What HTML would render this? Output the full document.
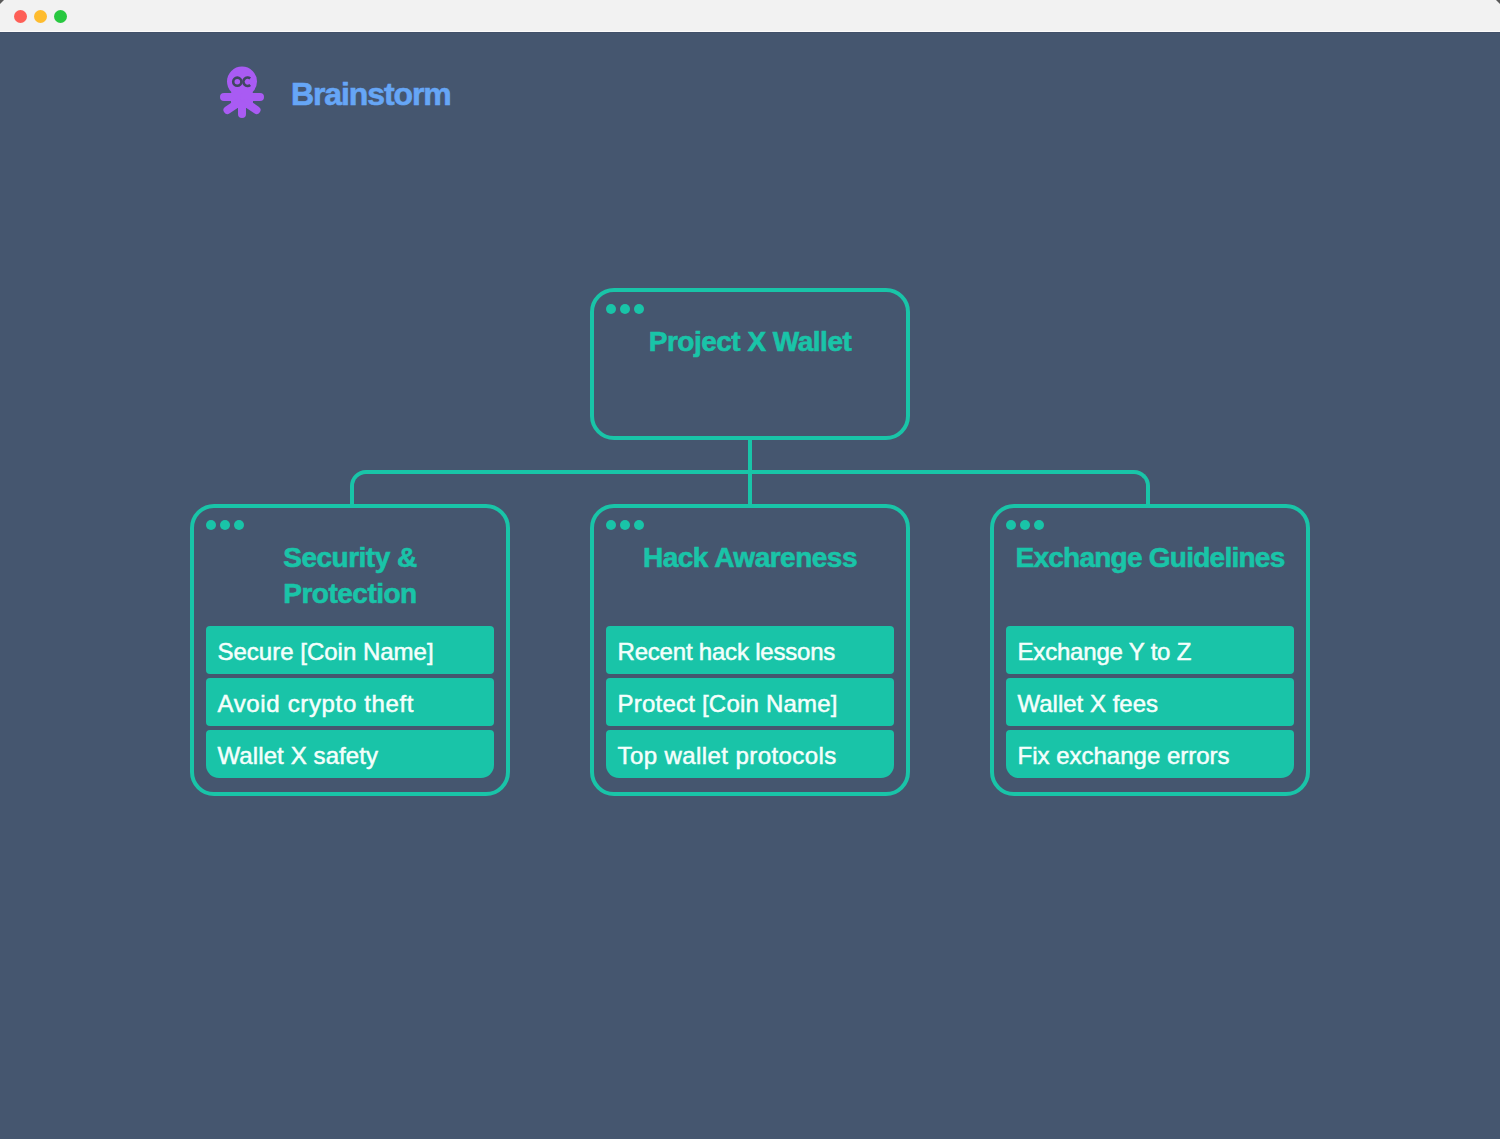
<!DOCTYPE html>
<html>
<head>
<meta charset="utf-8">
<style>
html,body{margin:0;padding:0;}
body{width:1500px;height:1139px;overflow:hidden;background:#45566f;position:relative;font-family:"Liberation Sans",sans-serif;}
.bar{position:absolute;left:0;top:0;width:1500px;height:31px;background:#f2f2f2;border-bottom:1px solid #fbfbfb;}
.bar:after{content:"";position:absolute;left:0;top:32px;width:1500px;height:1px;background:#415069;}
.tl{position:absolute;top:10px;width:13px;height:13px;border-radius:50%;}
.logo{position:absolute;left:0;top:0;}
.brand{position:absolute;left:291px;top:74px;font-size:32px;font-weight:bold;color:#66a6f6;letter-spacing:-1.1px;line-height:41px;-webkit-text-stroke:0.6px #66a6f6;white-space:nowrap;}
.box{position:absolute;box-sizing:border-box;border:4px solid #19c4a8;border-radius:24px;}
.dots{position:absolute;left:12px;top:12px;}
.dots i{position:absolute;top:0;width:10px;height:10px;border-radius:50%;background:#19c4a8;}
.title{position:absolute;left:0;right:0;text-align:center;color:#19c4a8;font-weight:bold;font-size:28px;line-height:36px;white-space:nowrap;letter-spacing:-0.5px;-webkit-text-stroke:0.6px #19c4a8;}
.item{position:absolute;left:12px;width:288px;height:48px;background:#19c4a8;border-radius:4px;color:#f4fffc;font-size:24px;line-height:52px;-webkit-text-stroke:0.5px #f4fffc;white-space:nowrap;box-sizing:border-box;padding-left:11.5px;}
.item.last{border-radius:4px 4px 13px 13px;}
.conn{position:absolute;left:350px;top:470px;width:800px;height:36px;box-sizing:border-box;border:4px solid #19c4a8;border-bottom:none;border-radius:16px 16px 0 0;}
.vline{position:absolute;left:748px;top:438px;width:4px;height:68px;background:#19c4a8;}
</style>
</head>
<body>
<div class="bar">
  <svg style="position:absolute;left:0;top:0" width="1500" height="6"><path d="M0 0 H4 L0 4 Z" fill="#5a5a5a"/><path d="M1500 0 H1496 L1500 4 Z" fill="#5a5a5a"/></svg>
  <div class="tl" style="left:14px;background:#fe5f57"></div>
  <div class="tl" style="left:34px;background:#febc2e"></div>
  <div class="tl" style="left:54px;background:#28c840"></div>
</div>

<svg class="logo" width="300" height="130" viewBox="0 0 300 130">
  <g fill="#a95bf3" stroke="#a95bf3" stroke-linecap="round">
    <circle cx="242" cy="81.5" r="15" stroke="none"/>
    <rect x="231" y="88" width="22" height="20" rx="6" stroke="none"/>
    <line x1="240" y1="97" x2="224" y2="97" stroke-width="8"/>
    <line x1="244" y1="97" x2="260" y2="97" stroke-width="8"/>
    <line x1="238" y1="103" x2="227.5" y2="110" stroke-width="8"/>
    <line x1="246" y1="103" x2="256.5" y2="110" stroke-width="8"/>
    <line x1="242" y1="105" x2="242" y2="114" stroke-width="8"/>
  </g>
  <g fill="none" stroke="#3f4760" stroke-width="2.6">
    <circle cx="237.3" cy="81.7" r="4.1"/>
    <path d="M250.2 78.4 A4.2 4.2 0 1 0 250.2 85"/>
  </g>
</svg>
<div class="brand">Brainstorm</div>

<div class="conn"></div>
<div class="vline"></div>

<div class="box" style="left:590px;top:288px;width:320px;height:152px;">
  <div class="dots"><i style="left:0"></i><i style="left:14px"></i><i style="left:28px"></i></div>
  <div class="title" style="top:32px;">Project X Wallet</div>
</div>

<div class="box" style="left:190px;top:504px;width:320px;height:292px;">
  <div class="dots"><i style="left:0"></i><i style="left:14px"></i><i style="left:28px"></i></div>
  <div class="title" style="top:32px;">Security &amp;<br>Protection</div>
  <div class="item" style="top:118px;">Secure [Coin Name]</div>
  <div class="item" style="top:170px;letter-spacing:0.65px">Avoid crypto theft</div>
  <div class="item last" style="top:222px;letter-spacing:0.1px">Wallet X safety</div>
</div>

<div class="box" style="left:590px;top:504px;width:320px;height:292px;">
  <div class="dots"><i style="left:0"></i><i style="left:14px"></i><i style="left:28px"></i></div>
  <div class="title" style="top:32px;letter-spacing:-0.5px">Hack Awareness</div>
  <div class="item" style="top:118px;letter-spacing:-0.2px">Recent hack lessons</div>
  <div class="item" style="top:170px;letter-spacing:0.22px">Protect [Coin Name]</div>
  <div class="item last" style="top:222px;letter-spacing:0.42px">Top wallet protocols</div>
</div>

<div class="box" style="left:990px;top:504px;width:320px;height:292px;">
  <div class="dots"><i style="left:0"></i><i style="left:14px"></i><i style="left:28px"></i></div>
  <div class="title" style="top:32px;letter-spacing:-0.75px">Exchange Guidelines</div>
  <div class="item" style="top:118px;letter-spacing:-0.19px">Exchange Y to Z</div>
  <div class="item" style="top:170px;">Wallet X fees</div>
  <div class="item last" style="top:222px;">Fix exchange errors</div>
</div>
</body>
</html>
